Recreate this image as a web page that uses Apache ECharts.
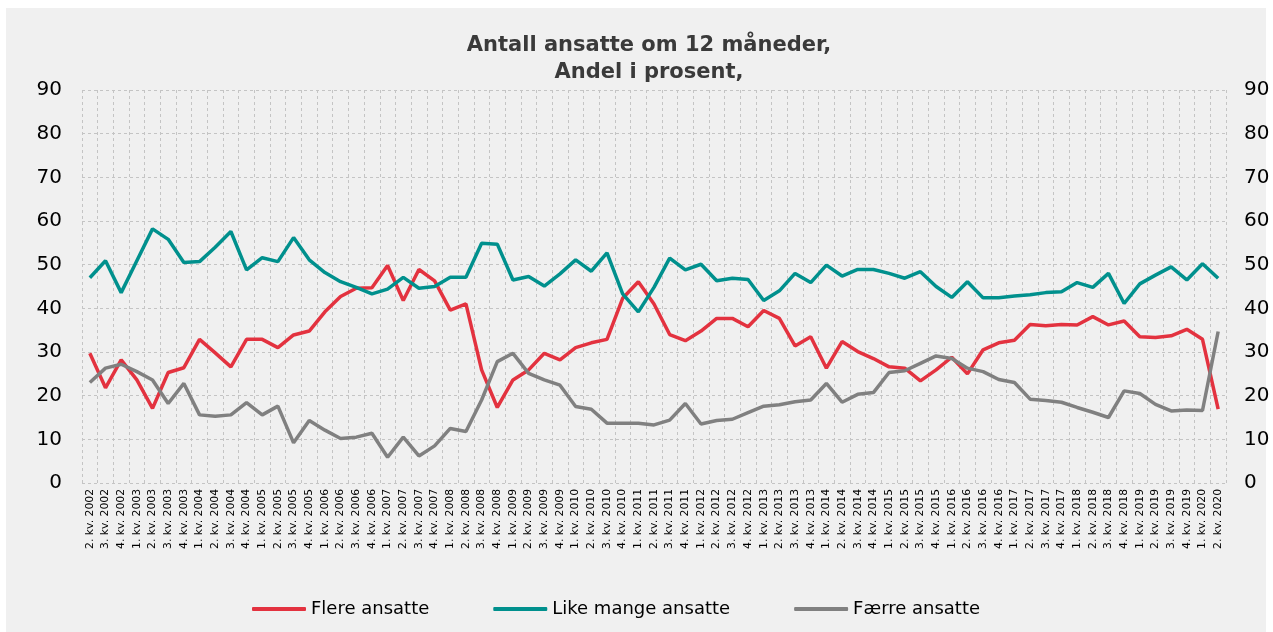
<!DOCTYPE html>
<html><head><meta charset="utf-8">
<script src="https://cdn.jsdelivr.net/npm/echarts@6/dist/echarts.min.js"></script>
<style>
html,body{margin:0;padding:0;background:#fff;}
#bg{position:absolute;left:6px;top:8px;width:1260px;height:624px;background:#f0f0f0;}
#c{position:absolute;left:0;top:0;width:1273px;height:632px;}
</style></head>
<body><div id="bg"></div><div id="c"></div>
<script>
const categories = [];
(function(){ for (let y=2002;y<=2020;y++){ for (let q=1;q<=4;q++){ if ((y===2002&&q<2)||(y===2020&&q>2)) continue; categories.push(q+'. kv. '+y);} } })();
const flere = [29.7,21.8,28.2,23.6,17.1,25.3,26.4,32.9,29.8,26.6,32.9,32.9,31.0,33.9,34.8,39.2,42.7,44.6,44.7,49.8,41.8,48.9,46.3,39.6,41.0,25.9,17.3,23.6,25.9,29.7,28.2,31.0,32.1,32.9,42.3,46.1,41.0,34.0,32.6,34.8,37.7,37.7,35.8,39.5,37.7,31.4,33.5,26.3,32.4,30.1,28.5,26.6,26.3,23.4,25.9,28.8,25.0,30.5,32.1,32.7,36.3,36.0,36.3,36.2,38.1,36.2,37.1,33.5,33.3,33.7,35.2,32.9,16.9];
const likeMange = [47.0,50.9,43.6,50.9,58.2,55.8,50.5,50.7,54.0,57.6,48.8,51.6,50.7,56.2,51.1,48.2,46.1,44.8,43.3,44.4,47.1,44.6,45.0,47.1,47.1,54.9,54.7,46.5,47.3,45.1,47.9,51.1,48.5,52.7,43.3,39.2,44.8,51.5,48.8,50.1,46.3,46.9,46.6,41.8,44.0,48.0,45.9,49.9,47.4,48.9,48.9,48.0,46.9,48.4,45.0,42.5,46.1,42.4,42.4,42.8,43.1,43.6,43.8,45.9,44.8,48.0,41.1,45.6,47.6,49.5,46.5,50.2,46.9];
const faerre = [23.0,26.3,27.2,25.5,23.6,18.2,22.8,15.6,15.3,15.6,18.4,15.6,17.6,9.2,14.3,12.1,10.2,10.5,11.4,5.9,10.5,6.2,8.5,12.5,11.8,19.0,27.8,29.7,25.1,23.6,22.4,17.5,16.9,13.7,13.7,13.7,13.3,14.4,18.2,13.5,14.3,14.6,16.1,17.6,17.9,18.6,19.0,22.8,18.5,20.3,20.7,25.3,25.7,27.4,29.1,28.5,26.3,25.5,23.7,23.0,19.2,18.9,18.5,17.3,16.2,15.0,21.1,20.5,18.0,16.5,16.7,16.6,34.7];
const seriesNames = ['Flere ansatte','Like mange ansatte','Færre ansatte'];
const colors = ['#e3323f','#00908d','#808080'];
const font = 'DejaVu Sans, Verdana, sans-serif';
const chart = echarts.init(document.getElementById('c'));
const splitStyle = {show:true,lineStyle:{color:'#c4c4c4',type:[3,3],width:1}};
const yAxisBase = {type:'value',min:0,max:90,interval:10,axisLine:{show:false},axisTick:{show:false},
  axisLabel:{fontFamily:font,fontSize:20,color:'#000'}};
chart.setOption({
  animation:false,
  title:{text:'Antall ansatte om 12 måneder,\nAndel i prosent,',left:644,top:27,textAlign:'center',
    textStyle:{fontFamily:font,fontSize:21,fontWeight:'bold',color:'#3a3a3a',lineHeight:27}},
  legend:{bottom:9,left:247,itemWidth:54,itemHeight:4,itemGap:64,
    textStyle:{fontFamily:font,fontSize:18,color:'#000'},
    data:seriesNames.map((n,i)=>({name:n,icon:'roundRect',itemStyle:{color:colors[i]}}))},
  grid:{left:82,right:47,top:90,bottom:149,containLabel:false},
  xAxis:{type:'category',data:categories,boundaryGap:true,
    axisLine:{show:false},axisTick:{show:false},
    splitLine:Object.assign({interval:0},splitStyle),
    axisLabel:{interval:0,rotate:90,fontFamily:font,fontSize:10.8,color:'#000',margin:6}},
  yAxis:[Object.assign({position:'left',splitLine:splitStyle},yAxisBase,{axisLabel:Object.assign({},yAxisBase.axisLabel,{margin:20})}),
         Object.assign({position:'right',splitLine:{show:false}},yAxisBase,{axisLabel:Object.assign({},yAxisBase.axisLabel,{margin:18})})],
  series:[flere,likeMange,faerre].map((d,i)=>({name:seriesNames[i],type:'line',data:d,symbol:'none',
    yAxisIndex:0,lineStyle:{color:colors[i],width:3.5},itemStyle:{color:colors[i]}}))
});
</script></body></html>
